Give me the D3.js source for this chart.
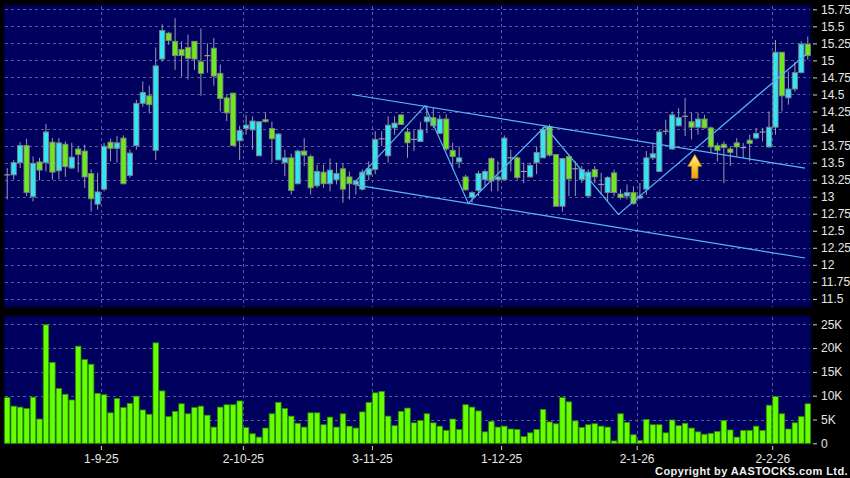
<!DOCTYPE html>
<html>
<head>
<meta charset="utf-8">
<script src="https://cdn.jsdelivr.net/npm/d3@7"></script>
<style>
  body { margin: 0; background: #000; }
  svg { display: block; }
  text { font-family: Arial, "Liberation Sans", sans-serif; }
</style>
</head>
<body>
<div class="chart"></div>
<script>
// daily candles, index 0 = first trading day on the chart
const open = [13.32,13.32,13.50,13.75,13.00,13.51,13.50,13.80,13.38,13.77,13.42,13.70,13.67,13.34,12.89,13.11,13.80,13.71,13.86,13.31,
  13.75,14.37,14.48,13.68,15.02,15.40,15.28,15.16,15.19,15.28,14.98,15.07,15.18,14.81,14.45,14.52,13.82,14.00,13.98,13.60,
  14.13,14.00,13.54,13.50,13.57,13.19,13.67,13.59,13.16,13.36,13.19,13.25,13.41,13.29,13.18,13.11,13.32,13.40,13.85,13.60,
  14.01,14.20,13.95,13.84,13.81,14.10,14.16,13.93,14.14,13.68,13.51,13.29,12.99,13.09,13.25,13.56,13.25,13.25,13.57,13.57,
  13.37,13.29,13.50,13.57,14.03,13.62,12.86,13.59,13.41,13.25,13.01,13.40,13.18,13.06,13.35,13.04,13.01,13.06,12.98,13.11,
  13.57,13.37,13.96,13.70,14.04,14.18,14.10,14.02,14.14,14.01,13.75,13.77,13.70,13.79,13.72,13.83,13.86,13.95,13.73,14.02,
  15.12,14.45,14.58,14.82,15.24];
const high = [13.42,13.54,13.80,13.85,13.59,13.57,14.07,13.86,13.86,13.81,13.79,13.74,13.76,13.40,13.35,13.79,13.85,13.89,13.90,13.69,
  14.42,14.69,14.63,15.19,15.53,15.42,15.62,15.28,15.38,15.28,15.47,15.25,15.33,14.94,14.50,14.52,14.04,14.20,14.18,14.10,
  14.24,14.10,13.93,13.69,13.63,13.69,13.86,13.62,13.47,13.47,13.56,13.50,13.49,13.37,13.25,13.40,13.52,13.96,13.96,14.18,
  14.18,14.21,14.01,13.98,14.10,14.34,14.31,14.20,14.21,13.79,13.74,13.32,13.08,13.38,13.40,13.58,13.52,13.90,13.69,13.59,
  13.50,13.50,13.74,14.03,14.06,13.62,13.57,13.62,13.52,13.45,13.40,13.45,13.35,13.30,13.40,13.11,13.18,13.15,13.20,13.67,
  13.79,13.98,14.13,14.25,14.30,14.45,14.23,14.23,14.20,14.03,13.79,13.81,13.74,13.86,13.79,13.91,14.01,14.01,14.25,15.30,
  15.12,14.84,14.98,15.28,15.35];
const low = [12.96,13.25,13.42,13.01,12.93,13.24,13.37,13.25,13.25,13.29,13.41,13.36,13.13,12.78,12.81,13.08,13.52,13.50,13.18,13.28,
  13.69,14.32,14.22,13.54,14.98,15.23,14.86,14.76,14.72,14.86,14.48,14.82,14.63,14.25,14.11,13.74,13.54,13.91,13.69,13.60,
  14.09,13.50,13.54,13.30,13.03,13.18,13.45,13.03,13.13,13.13,13.08,13.18,12.91,12.96,13.03,13.09,13.24,13.33,13.74,13.50,
  13.91,14.05,13.57,13.67,13.80,13.93,14.01,13.92,13.67,13.40,13.42,13.09,12.91,13.01,13.15,13.08,13.08,13.25,13.37,13.25,
  13.20,13.28,13.33,13.57,13.59,12.86,12.78,13.01,13.01,13.20,13.00,13.20,13.03,12.93,13.01,12.96,12.96,12.88,12.96,13.03,
  13.54,13.37,13.91,13.69,14.03,13.89,13.84,13.91,14.00,13.64,13.52,13.20,13.45,13.59,13.57,13.52,13.84,13.81,13.72,13.91,
  14.25,14.35,14.54,14.81,15.01];
const close = [13.32,13.50,13.75,13.06,13.49,13.39,13.95,13.36,13.79,13.44,13.58,13.62,13.29,12.97,13.07,13.74,13.71,13.79,13.19,13.64,
  14.37,14.53,14.35,14.92,15.44,15.29,15.07,15.07,15.03,15.02,14.81,15.07,14.77,14.44,14.23,13.75,13.97,14.05,14.11,14.10,
  14.10,13.85,13.92,13.57,13.09,13.67,13.61,13.13,13.37,13.19,13.39,13.34,13.11,13.19,13.23,13.36,13.41,13.84,13.85,14.05,
  14.08,14.06,13.79,13.84,13.98,14.17,14.04,14.14,13.70,13.59,13.57,13.10,13.06,13.34,13.37,13.23,13.29,13.86,13.57,13.28,
  13.37,13.46,13.65,13.99,13.61,12.86,13.56,13.26,13.41,13.40,13.36,13.29,13.18,13.28,13.06,12.99,13.06,12.90,13.01,13.57,
  13.63,13.95,13.96,14.20,14.16,14.18,14.02,14.14,14.01,13.73,13.68,13.72,13.65,13.73,13.72,13.78,13.93,13.95,14.02,15.12,
  14.48,14.58,14.82,15.24,15.07];
// volume in thousands
const volume = [9.6,7.8,7.6,7.3,9.7,5.1,24.9,17.0,11.5,10.3,9.1,20.4,17.6,16.6,10.5,10.2,6.4,9.4,7.5,8.4,
  9.9,7.0,6.1,21.1,11.0,5.6,6.7,8.3,6.2,7.5,7.8,5.9,3.4,7.6,8.1,8.1,8.9,3.3,2.0,1.3,
  3.2,6.2,8.6,7.3,5.7,4.2,3.4,6.4,6.4,3.9,5.5,3.4,6.2,3.6,3.2,6.6,8.6,10.6,10.9,5.7,
  3.7,6.7,7.4,4.3,4.8,6.2,4.3,3.6,2.7,5.1,2.9,8.1,7.6,6.8,2.4,4.6,3.4,3.6,3.0,2.9,
  1.4,2.2,2.9,7.1,4.5,4.1,9.6,8.7,4.7,3.3,3.9,4.1,3.6,3.4,0.5,6.2,4.4,1.8,0.6,5.0,
  3.9,3.9,2.2,4.9,3.7,4.2,3.2,2.4,1.9,2.1,2.5,4.8,2.8,1.3,2.7,2.7,3.6,2.7,8.0,9.8,
  6.2,3.0,4.3,5.6,8.3];

const tickIndex = [15, 37, 57, 77, 98, 119];
const tickLabels = ['1-9-25', '2-10-25', '3-11-25', '1-12-25', '2-1-26', '2-2-26'];
const priceTicks = [11.5, 11.75, 12, 12.25, 12.5, 12.75, 13, 13.25, 13.5, 13.75, 14, 14.25, 14.5, 14.75, 15, 15.25, 15.5, 15.75];
const volumeTicks = [0, 5, 10, 15, 20, 25];

// drawn trend lines, [candle index, price]
const channelTop = [[53.36, 14.50], [123.57, 13.42]];
const channelBottom = [[54.13, 13.17], [123.57, 12.10]];
const zigzag = [[53.71, 13.20], [64.71, 14.335], [71.42, 12.90], [83.3, 14.03], [94.66, 12.74], [123.73, 15.09]];
const arrowMark = [106.5, 13.62, 13.27]; // index, tip price, tail price

const width = 850;
const height = 478;
const n = open.length;

const svg = d3.select('.chart')
  .append('svg')
  .attr('width', width)
  .attr('height', height);

svg.append('rect').attr('width', width).attr('height', height).attr('fill', '#000');

const defs = svg.append('defs');
defs.append('filter').attr('id', 'soft')
  .append('feGaussianBlur').attr('stdDeviation', 1.2);
const grad = defs.append('linearGradient').attr('id', 'arrowFill')
  .attr('x1', 0).attr('y1', 0).attr('x2', 0).attr('y2', 1);
grad.append('stop').attr('offset', '0%').attr('stop-color', '#fff27a');
grad.append('stop').attr('offset', '100%').attr('stop-color', '#f0a000');

// index i occupies [xs(i), xs(i+1)]
const xs = d3.scaleLinear().domain([0, n]).range([4, 811]);
const step = xs(1) - xs(0);
const y = d3.scaleLinear().domain([11.5, 15.75]).range([298.9, 9.3]);
const yv = d3.scaleLinear().domain([0, 25]).range([443.3, 324.3]);

// panels
const panels = [[5, 307], [316, 444]];
svg.selectAll('rect.panel')
  .data(panels)
  .enter()
    .append('rect')
    .attr('class', 'panel')
    .attr('x', 4)
    .attr('y', d => d[0])
    .attr('width', 807)
    .attr('height', d => d[1] - d[0])
    .attr('fill', '#00005e')
    .attr('filter', 'url(#soft)');

const gridColor = '#5a5a9c';

// horizontal grid
svg.append('g')
  .selectAll('line')
  .data(priceTicks)
  .enter()
    .append('line')
    .attr('x1', 5).attr('x2', 810)
    .attr('y1', d => Math.round(y(d)) + 0.5)
    .attr('y2', d => Math.round(y(d)) + 0.5)
    .attr('stroke', gridColor)
    .attr('stroke-dasharray', '3,3');

svg.append('g')
  .selectAll('line')
  .data(volumeTicks.slice(1))
  .enter()
    .append('line')
    .attr('x1', 5).attr('x2', 810)
    .attr('y1', d => Math.round(yv(d)) + 0.5)
    .attr('y2', d => Math.round(yv(d)) + 0.5)
    .attr('stroke', gridColor)
    .attr('stroke-dasharray', '3,3');

// vertical grid
panels.forEach(p => {
  svg.append('g')
    .selectAll('line')
    .data(tickIndex)
    .enter()
      .append('line')
      .attr('x1', d => Math.round(xs(d)) + 0.5)
      .attr('x2', d => Math.round(xs(d)) + 0.5)
      .attr('y1', p[0] + 1).attr('y2', p[1])
      .attr('stroke', gridColor)
      .attr('stroke-dasharray', '3,3');
});

// volume bars
svg.append('g')
  .selectAll('rect')
  .data(volume)
  .enter()
    .append('rect')
    .attr('x', (d, i) => xs(i) + 0.5)
    .attr('width', step - 1)
    .attr('y', d => yv(d))
    .attr('height', d => yv(0) - yv(d))
    .attr('fill', '#66ff00')
    .attr('stroke', '#2f8f00')
    .attr('stroke-width', 0.8);

// candles
const candles = svg.append('g')
  .selectAll('g')
  .data(d3.range(n))
  .enter()
    .append('g');

candles.append('line')
  .attr('x1', i => xs(i + 0.5))
  .attr('x2', i => xs(i + 0.5))
  .attr('y1', i => y(high[i]))
  .attr('y2', i => y(low[i]))
  .attr('stroke', '#9a9aa8')
  .attr('stroke-width', 1);

candles.filter(i => close[i] !== open[i])
  .append('rect')
  .attr('x', i => xs(i + 0.5) - 2.6)
  .attr('width', 5.2)
  .attr('y', i => y(Math.max(open[i], close[i])))
  .attr('height', i => Math.max(1, Math.abs(y(open[i]) - y(close[i]))))
  .attr('fill', i => close[i] > open[i] ? '#33e4f2' : '#6ee81c')
  .attr('stroke', '#7c8088')
  .attr('stroke-width', 0.9);

candles.filter(i => close[i] === open[i])
  .append('line')
  .attr('x1', i => xs(i + 0.5) - 3)
  .attr('x2', i => xs(i + 0.5) + 3)
  .attr('y1', i => y(close[i]))
  .attr('y2', i => y(close[i]))
  .attr('stroke', '#9a9aa8')
  .attr('stroke-width', 1.2);

// trend lines
const line = d3.line()
  .x(d => xs(d[0] + 0.5))
  .y(d => y(d[1]));

svg.append('g')
  .selectAll('path')
  .data([channelTop, channelBottom, zigzag])
  .enter()
    .append('path')
    .attr('d', line)
    .attr('fill', 'none')
    .attr('stroke', '#58b4f2')
    .attr('stroke-width', 1.2);

// arrow
const ax = xs(arrowMark[0] + 0.5);
const aTop = y(arrowMark[1]);
const aBot = y(arrowMark[2]);
const aMid = aTop + (aBot - aTop) * 0.5;
svg.append('path')
  .attr('d', d3.line()([
    [ax, aTop], [ax + 7, aMid], [ax + 3.2, aMid], [ax + 3.2, aBot],
    [ax - 3.2, aBot], [ax - 3.2, aMid], [ax - 7, aMid]
  ]) + 'Z')
  .attr('fill', 'url(#arrowFill)')
  .attr('stroke', '#b87800')
  .attr('stroke-width', 0.8);

// axes
const styleAxis = g => {
  g.select('.domain').remove();
  g.selectAll('.tick line').attr('stroke', '#d0d0d0');
  g.selectAll('.tick text')
    .attr('fill', '#e6e6e6')
    .style('font-size', '12px')
    .style('font-family', 'Arial, "Liberation Sans", sans-serif');
};

svg.append('g')
  .attr('transform', 'translate(813,0)')
  .call(d3.axisRight(y).tickValues(priceTicks).tickSize(4).tickPadding(4).tickFormat(d => d))
  .call(styleAxis);

svg.append('g')
  .attr('transform', 'translate(813,0)')
  .call(d3.axisRight(yv).tickValues(volumeTicks).tickSize(4).tickPadding(4)
    .tickFormat(d => d === 0 ? '0' : d + 'K'))
  .call(styleAxis);

svg.append('g')
  .attr('transform', 'translate(0,446)')
  .call(d3.axisBottom(xs).tickValues(tickIndex).tickSize(4).tickPadding(4)
    .tickFormat((d, k) => tickLabels[k]))
  .call(styleAxis);

svg.append('text')
  .attr('x', 848)
  .attr('y', 475)
  .attr('text-anchor', 'end')
  .attr('fill', '#f0f0f0')
  .style('font-size', '11px')
  .style('font-weight', 'bold')
  .style('letter-spacing', '0.4px')
  .text('Copyright by AASTOCKS.com Ltd.');
</script>
</body>
</html>
